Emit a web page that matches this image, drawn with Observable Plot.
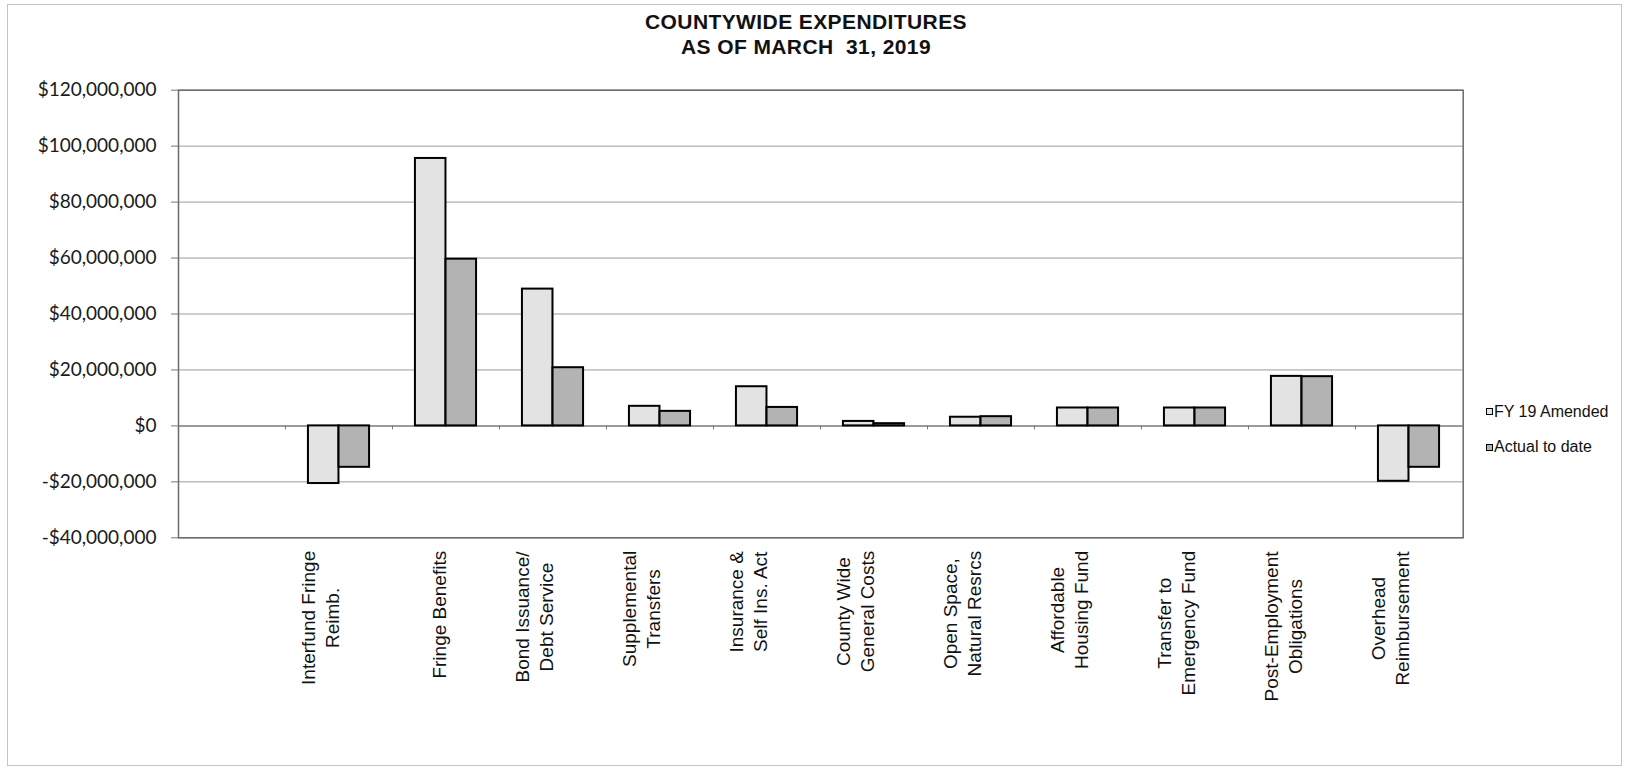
<!DOCTYPE html>
<html>
<head>
<meta charset="utf-8">
<script src="https://cdn.jsdelivr.net/npm/d3@7"></script>
<script src="https://cdn.jsdelivr.net/npm/@observablehq/plot@0.6"></script>
<style>
html,body{margin:0;padding:0;background:#fff;}
#page{position:relative;width:1628px;height:770px;overflow:hidden;background:#fff;}
#border{position:absolute;left:7px;top:4px;width:1615px;height:762px;border:1px solid #c4c4c4;box-sizing:border-box;}
#title{position:absolute;left:0;top:9px;width:1612px;text-align:center;font:bold 21px "Liberation Sans",Arial,sans-serif;line-height:25px;letter-spacing:0.4px;color:#111;white-space:pre;}
#chart{position:absolute;left:0;top:60px;}
#legend{position:absolute;left:1486px;top:401.7px;font:16px "Liberation Sans",Arial,sans-serif;color:#111;}
.item{display:flex;align-items:center;height:20px;margin-bottom:15.6px;white-space:nowrap;}
.sw{width:4.5px;height:4.5px;border:1.5px solid #000;margin-right:1.5px;}
</style>
</head>
<body>
<div id="page">
  <div id="border"></div>
  <div id="title"></div>
  <div id="chart"></div>
  <div id="legend"></div>
</div>
<script>
// ---- data ----
const titleLines = ["COUNTYWIDE EXPENDITURES", "AS OF MARCH  31, 2019"];
const categories = [
  "",
  "Interfund Fringe\nReimb.",
  "Fringe Benefits",
  "Bond Issuance/\nDebt Service",
  "Supplemental\nTransfers",
  "Insurance &\nSelf Ins. Act",
  "County Wide\nGeneral Costs",
  "Open Space,\nNatural Resrcs",
  "Affordable\nHousing Fund",
  "Transfer to\nEmergency Fund",
  "Post-Employment\nObligations",
  "Overhead\nReimbursement"
];
const fy19Amended = [null, -20.6e6, 95.6e6, 48.9e6, 7.0e6, 14.0e6, 1.6e6, 3.1e6, 6.4e6, 6.4e6, 17.7e6, -19.8e6];
const actualToDate = [null, -14.8e6, 59.6e6, 20.8e6, 5.2e6, 6.6e6, 0.8e6, 3.3e6, 6.4e6, 6.4e6, 17.6e6, -14.8e6];
const seriesNames = ["FY 19 Amended", "Actual to date"];
const seriesColors = ["#e3e3e3", "#b3b3b3"];
const yTicks = [-40e6, -20e6, 0, 20e6, 40e6, 60e6, 80e6, 100e6, 120e6];

// ---- title & legend ----
document.getElementById("title").textContent = titleLines.join("\n");
const legend = document.getElementById("legend");
seriesNames.forEach((name, i) => {
  const item = document.createElement("div");
  item.className = "item";
  const sw = document.createElement("div");
  sw.className = "sw";
  sw.style.background = seriesColors[i];
  const lab = document.createElement("span");
  lab.textContent = name;
  item.appendChild(sw); item.appendChild(lab);
  legend.appendChild(item);
});

// ---- chart ----
const rows = categories.map((c, i) => ({category: c, fy: fy19Amended[i], actual: actualToDate[i]}));
const valid = rows.filter(d => d.fy != null);
const W = 1628, H = 710, mL = 178, mR = 165.3, mT = 29.7, mB = 232.7;
const bw = (W - mL - mR) / categories.length;
const barW = bw / 3.5, edge = barW * 0.75;
const fmt = d => (d < 0 ? "-" : "") + "$" + d3.format(",")(Math.abs(d));

const plot = Plot.plot({
  width: W, height: H,
  marginLeft: mL, marginRight: mR, marginTop: mT, marginBottom: mB,
  style: {fontFamily: "Lato, sans-serif", background: "transparent", overflow: "visible"},
  x: {type: "band", domain: categories, padding: 0, axis: null},
  y: {domain: [-40e6, 120e6], axis: null},
  marks: [
    Plot.gridY(yTicks.filter(d => d !== 0), {stroke: "#9a9a9a", strokeOpacity: 1, strokeWidth: 1}),
    Plot.ruleY([0], {stroke: "#7a7a7a", strokeWidth: 1.5}),
    Plot.ruleX(categories.slice(1), {x: d => d, dx: -bw / 2, y1: 0, y2: 0, insetBottom: -4, stroke: "#777"}),
    Plot.barY(valid, {x: "category", y: "fy", fill: seriesColors[0], stroke: "#000", strokeWidth: 2,
      insetLeft: edge, insetRight: edge + barW}),
    Plot.barY(valid, {x: "category", y: "actual", fill: seriesColors[1], stroke: "#000", strokeWidth: 2,
      insetLeft: edge + barW, insetRight: edge}),
    Plot.frame({stroke: "#6a6a6a", strokeWidth: 1.5}),
    Plot.axisY(yTicks, {tickFormat: fmt, tickSize: 7, tickPadding: 15, fontSize: 19,
      fontFamily: "Lato, sans-serif", stroke: "#777", fill: "#1a1a1a"}),
    Plot.text(categories, {x: d => d, text: d => d, frameAnchor: "bottom", rotate: -90,
      textAnchor: "middle", lineHeight: 1.25, fontSize: 19,
      fontFamily: "Liberation Sans, Arial, sans-serif", fill: "#111"})
  ]
});
document.getElementById("chart").appendChild(plot);

// align the rotated category labels so each block starts just below the plot frame
const topY = plot.scale("y").apply(-40e6) + 13;
plot.querySelectorAll('g[aria-label="text"] text').forEach(t => {
  const b = t.getBBox();
  const tr = t.getAttribute("transform") || "";
  const m = tr.match(/translate\(\s*([-\d.e]+)[\s,]+([-\d.e]+)\s*\)/);
  if (!m) return;
  const ty = topY + b.x + b.width;
  t.setAttribute("transform", tr.replace(m[0], `translate(${m[1]},${ty})`));
});
</script>
</body>
</html>
